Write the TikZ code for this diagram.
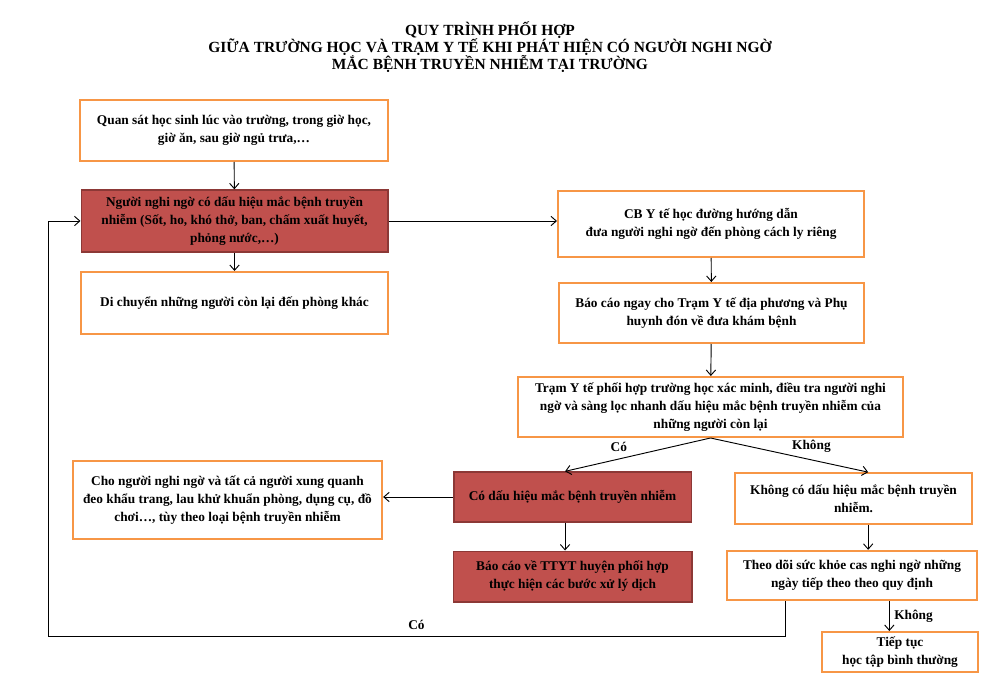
\documentclass[tikz,border=0pt]{standalone}
\usepackage{fontspec}
\setmainfont{Liberation Serif}
\usetikzlibrary{arrows.meta,positioning}
\definecolor{FlowOrange}{HTML}{F79646}
\definecolor{FlowRed}{HTML}{C0504D}
\definecolor{FlowRedDark}{HTML}{8C3836}
\definecolor{FlowBlack}{HTML}{000000}
\definecolor{FlowWhite}{HTML}{FFFFFF}
\tikzset{
    % Base box style
    basebox/.style={
        draw=FlowOrange,
        fill=FlowWhite,
        line width=1.5pt,
        align=center,
        inner sep=2pt,
        font=\fontsize{10}{13.5}\selectfont\bfseries
    },
    % Step box (white, orange border)
    stepbox/.style={
        basebox
    },
    % Alert box (red)
    alertbox/.style={
        basebox,
        draw=FlowRedDark,
        fill=FlowRed,
        line width=1pt
    },
    % Arrow style
    myarrow/.style={
        -{Straight Barb[length=4pt,width=7pt]},
        line width=0.7pt,
        draw=FlowBlack
    },
    % Label on a connector
    edgelabel/.style={
        font=\fontsize{10}{12}\selectfont\bfseries
    },
    % Title
    titlenode/.style={
        align=center,
        font=\fontsize{11.6}{13}\selectfont\bfseries
    }
}
\begin{document}
\begin{tikzpicture}[x=0.75pt, y=-0.75pt]
        \useasboundingbox[fill=FlowWhite] (0,0) rectangle (986,688);

        % Title
        \node[titlenode] (title) at (490,47) {QUY TRÌNH PHỐI HỢP\\GIỮA TRƯỜNG HỌC VÀ TRẠM Y TẾ KHI PHÁT HIỆN CÓ NGƯỜI NGHI NGỜ\\MẮC BỆNH TRUYỀN NHIỄM TẠI TRƯỜNG};

        % Left column
        \node[stepbox, minimum width=231pt, minimum height=45.75pt] (q1) at (234,130.5) {Quan sát học sinh lúc vào trường, trong giờ học,\\giờ ăn, sau giờ ngủ trưa,…};
        \node[alertbox, minimum width=230pt, minimum height=46.5pt] (s1) at (234.5,221) {Người nghi ngờ có dấu hiệu mắc bệnh truyền\\nhiễm (Sốt, ho, khó thở, ban, chấm xuất huyết,\\phỏng nước,…)};
        \node[stepbox, minimum width=230pt, minimum height=46.5pt] (m1) at (234.5,303) {Di chuyển những người còn lại đến phòng khác};

        % Right column
        \node[stepbox, minimum width=229.5pt, minimum height=49.5pt] (g1) at (711,224) {CB Y tế học đường hướng dẫn\\đưa người nghi ngờ đến phòng cách ly riêng};
        \node[stepbox, minimum width=229pt, minimum height=45pt] (r1) at (711.5,313) {Báo cáo ngay cho Trạm Y tế địa phương và Phụ\\huynh đón về đưa khám bệnh};
        \node[stepbox, minimum width=289pt, minimum height=45pt] (t1) at (710.5,407) {Trạm Y tế phối hợp trường học xác minh, điều tra người nghi\\ngờ và sàng lọc nhanh dấu hiệu mắc bệnh truyền nhiễm của\\những người còn lại};

        % Branches
        \node[stepbox, minimum width=232pt, minimum height=58.5pt] (c1) at (227.5,500) {Cho người nghi ngờ và tất cả người xung quanh\\đeo khẩu trang, lau khử khuẩn phòng, dụng cụ, đồ\\chơi…, tùy theo loại bệnh truyền nhiễm};
        \node[alertbox, minimum width=178pt, minimum height=37.5pt] (d1) at (572.5,497) {Có dấu hiệu mắc bệnh truyền nhiễm};
        \node[alertbox, minimum width=179pt, minimum height=38pt] (b1) at (572.5,576.5) {Báo cáo về TTYT huyện phối hợp\\thực hiện các bước xử lý dịch};
        \node[stepbox, minimum width=178pt, minimum height=38pt] (k1) at (853.5,498.5) {Không có dấu hiệu mắc bệnh truyền\\nhiễm.};
        \node[stepbox, minimum width=187.5pt, minimum height=37pt] (f1) at (852,575.5) {Theo dõi sức khỏe cas nghi ngờ những\\ngày tiếp theo theo quy định};
        \node[stepbox, minimum width=117pt, minimum height=30pt] (n1) at (900,652) {Tiếp tục\\học tập bình thường};

        % Arrows
        \draw[myarrow] (q1) -- (s1);
        \draw[myarrow] (s1) -- (m1);
        \draw[myarrow] (s1.east) -- (s1.east -| g1.west);
        \draw[myarrow] (g1) -- (r1);
        \draw[myarrow] (r1) -- (t1);
        \draw[myarrow] (t1.south) -- node[edgelabel, pos=0.63, above=2pt]{Có} ([xshift=-5.6pt]d1.north);
        \draw[myarrow] (t1.south) -- node[edgelabel, pos=0.64, above=2pt]{Không} ([xshift=11pt]k1.north);
        \draw[myarrow] (d1.west) -- (d1.west -| c1.east);
        \draw[myarrow] ([xshift=-5.6pt]d1.south) -- ([xshift=-5.6pt]d1.south |- b1.north);
        \draw[myarrow] ([xshift=11pt]k1.south) -- ([xshift=11pt]k1.south |- f1.north);
        \draw[myarrow] ([xshift=28pt]f1.south) -- node[edgelabel, right=0pt]{Không} ([xshift=28pt]f1.south |- n1.north);

        % Back to suspect
        \coordinate (fbr) at (785,636);
        \coordinate (fbl) at (48,636);
        \draw[myarrow] (f1.south -| fbr) -- (fbr) -- node[edgelabel, midway, above=1pt]{Có} (fbl) |- (s1.west);
    \end{tikzpicture}
\end{document}
